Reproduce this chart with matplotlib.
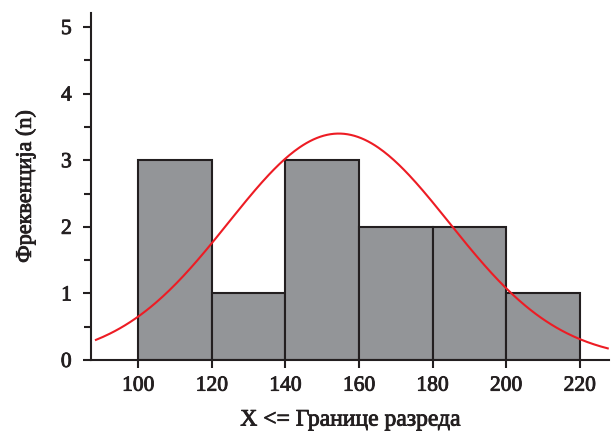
import numpy as np
import matplotlib.pyplot as plt
import matplotlib.patheffects as pe

# class limits and frequencies
bin_edges = [100, 120, 140, 160, 180, 200, 220]
freqs = [3, 1, 3, 2, 2, 1]

# fitted normal curve parameters
curve_mean = 154.5
curve_sd = 30.0
curve_peak = 3.4
curve_x_range = (88.5, 227.6)

plt.rcParams['font.family'] = ['Liberation Serif', 'DejaVu Serif']
dark = '#231f20'
heavy = [pe.withStroke(linewidth=0.6, foreground=dark)]

fig = plt.figure(figsize=(6.16, 4.34), dpi=100)
ax = fig.add_axes([0.148, 0.1705, 0.841, 0.7995])

lefts = bin_edges[:-1]
widths = np.diff(bin_edges)
ax.bar(lefts, freqs, width=widths, align='edge', color='#939598',
       edgecolor=dark, linewidth=1.5, zorder=2)

xs = np.linspace(curve_x_range[0], curve_x_range[1], 300)
ys = curve_peak * np.exp(-0.5 * ((xs - curve_mean) / curve_sd) ** 2)
ax.plot(xs, ys, color='#ed1c24', linewidth=1.5, zorder=3)

ax.set_xlim(87.2, 228)
ax.set_ylim(0, 5.21)
ax.set_xticks(bin_edges)
ax.set_yticks(range(6))
ax.set_yticks(np.arange(0.5, 5, 1), minor=True)

for s in ['top', 'right']:
    ax.spines[s].set_visible(False)
for s in ['left', 'bottom']:
    ax.spines[s].set_linewidth(1.5)
    ax.spines[s].set_color(dark)

ax.tick_params(axis='both', which='major', length=6, width=1.5, color=dark,
               labelsize=15.5, labelcolor=dark)
ax.tick_params(axis='y', which='minor', length=5, width=1.5, color=dark)
ax.tick_params(axis='x', pad=6)
ax.tick_params(axis='y', pad=8)
for lbl in ax.get_xticklabels() + ax.get_yticklabels():
    lbl.set_path_effects(heavy)

ax.set_xlabel('X <= Границе разреда', fontsize=17, color=dark, labelpad=10,
              path_effects=heavy)
ax.set_ylabel('Фреквенција (n)', fontsize=16, color=dark, labelpad=18,
              path_effects=heavy)

plt.savefig('out.png', dpi=100)
